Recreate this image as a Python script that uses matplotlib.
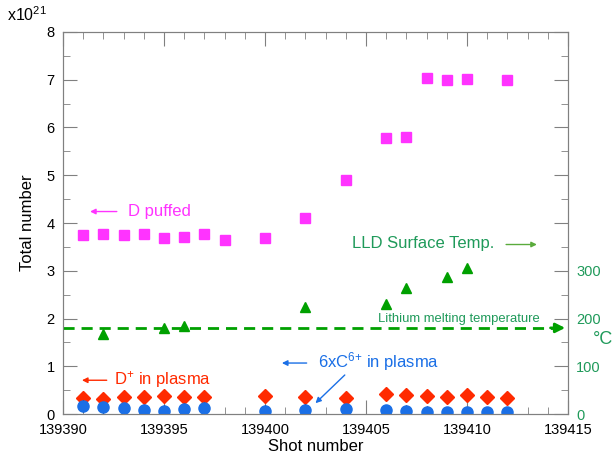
import matplotlib

matplotlib.use("Agg")
import matplotlib.pyplot as plt
from matplotlib.ticker import MultipleLocator, FuncFormatter

plt.rcParams["font.family"] = ["Liberation Sans", "DejaVu Sans"]
plt.rcParams["mathtext.fontset"] = "custom"
plt.rcParams["mathtext.rm"] = "Liberation Sans"
plt.rcParams["mathtext.it"] = "Liberation Sans:italic"

# D puffed (x1e21)
puff_shots = [139391, 139392, 139393, 139394, 139395, 139396, 139397, 139398,
              139400, 139402, 139404, 139406, 139407, 139408, 139409, 139410, 139412]
puff_vals = [3.74, 3.78, 3.75, 3.78, 3.68, 3.70, 3.76, 3.64,
             3.68, 4.10, 4.89, 5.78, 5.80, 7.03, 6.99, 7.02, 6.99]

# D+ and 6xC6+ in plasma (x1e21)
plasma_shots = [139391, 139392, 139393, 139394, 139395, 139396, 139397, 139400,
                139402, 139404, 139406, 139407, 139408, 139409, 139410, 139411, 139412]
dplus_vals = [0.33, 0.31, 0.35, 0.35, 0.37, 0.35, 0.35, 0.38,
              0.35, 0.34, 0.43, 0.41, 0.39, 0.35, 0.40, 0.36, 0.33]
carbon_vals = [0.17, 0.14, 0.12, 0.08, 0.07, 0.11, 0.13, 0.07,
               0.09, 0.10, 0.08, 0.07, 0.05, 0.04, 0.04, 0.04, 0.04]
carbon_err = [0.12, 0.12, 0.12, 0.12, 0.12, 0.12, 0.12, 0.12,
              0.12, 0.12, 0.12, 0.12, 0.12, 0.12, 0.12, 0.12, 0.12]

# LLD surface temperature (deg C)
temp_shots = [139392, 139395, 139396, 139402, 139406, 139407, 139409, 139410]
temp_vals = [168, 181, 185, 225, 231, 263, 288, 305]
li_melt = 180.5

magenta = "#ff33ff"
red = "#ff2a00"
blue = "#1a6fe6"
green = "#00a000"
tgreen = "#1f9a5a"
gray = "#808080"

fig = plt.figure(figsize=(6.12, 4.68), dpi=100)
ax = fig.add_axes([0.103, 0.115, 0.825, 0.817])
ax2 = ax.twinx()

ax.errorbar(plasma_shots, carbon_vals, yerr=carbon_err, fmt="o", color=blue,
            ms=8, ecolor="black", elinewidth=0.8, capsize=0, zorder=3)
ax.plot(plasma_shots, dplus_vals, "D", color=red, ms=7, ls="none", zorder=2)
ax.plot(puff_shots, puff_vals, "s", color=magenta, ms=7.5, ls="none")
ax2.plot(temp_shots, temp_vals, "^", color=green, ms=7, ls="none")

ax2.plot([139390, 139414.6], [li_melt, li_melt], ls=(0, (4, 2.5)), color=green, lw=2)
ax2.annotate("", xy=(139415, li_melt), xytext=(139414.0, li_melt),
             arrowprops=dict(arrowstyle="-|>", color=green, lw=2, mutation_scale=14))

ax.set_xlim(139390, 139415)
ax.set_ylim(0, 8)
ax2.set_ylim(0, 800)

ax.xaxis.set_major_locator(MultipleLocator(5))
ax.xaxis.set_minor_locator(MultipleLocator(1))
ax.yaxis.set_major_locator(MultipleLocator(1))
ax.yaxis.set_minor_locator(MultipleLocator(0.5))
ax.xaxis.set_major_formatter(FuncFormatter(lambda v, p: f"{int(round(v))}"))
ax2.yaxis.set_major_locator(MultipleLocator(100))
ax2.yaxis.set_minor_locator(MultipleLocator(50))
ax2.yaxis.set_major_formatter(FuncFormatter(lambda v, p: f"{int(v)}" if v <= 300 else ""))

ax.tick_params(which="both", direction="in", top=True, right=False, color=gray,
               labelsize=10.5, pad=6)
ax.tick_params(which="major", length=10)
ax.tick_params(which="minor", length=5)
ax2.tick_params(which="both", direction="in", color=gray, labelcolor=tgreen,
                labelsize=10.5, pad=6)
ax2.tick_params(which="major", length=10)
ax2.tick_params(which="minor", length=5)
for a in (ax, ax2):
    for s in a.spines.values():
        s.set_color(gray)

ax.set_xlabel("Shot number", fontsize=12, labelpad=2)
ax.set_ylabel("Total number", fontsize=12, labelpad=8)
fig.text(0.012, 0.955, r"x10$^{21}$", fontsize=11.5)
fig.text(0.968, 0.275, "°C", fontsize=13, color=tgreen, va="center")

fs = 12
ax.text(139393.2, 4.24, "D puffed", color=magenta, fontsize=fs, va="center")
ax.annotate("", xy=(139391.2, 4.24), xytext=(139392.8, 4.24),
            arrowprops=dict(arrowstyle="-|>", color=magenta, lw=1, mutation_scale=8))
ax.text(139392.5, 0.72, r"D$^{+}$ in plasma", color=red, fontsize=fs, va="center")
ax.annotate("", xy=(139390.8, 0.71), xytext=(139392.3, 0.71),
            arrowprops=dict(arrowstyle="-|>", color=red, lw=1, mutation_scale=8))
ax.text(139402.6, 1.1, r"6xC$^{6{+}}$ in plasma", color=blue, fontsize=fs, va="center")
ax.annotate("", xy=(139400.7, 1.07), xytext=(139402.2, 1.07),
            arrowprops=dict(arrowstyle="-|>", color=blue, lw=1, mutation_scale=8))
ax.annotate("", xy=(139402.4, 0.19), xytext=(139404.05, 0.86),
            arrowprops=dict(arrowstyle="-|>", color=blue, lw=1, mutation_scale=8))
ax.text(139404.3, 3.57, "LLD Surface Temp.", color=tgreen, fontsize=fs, va="center")
ax.annotate("", xy=(139413.6, 3.55), xytext=(139411.8, 3.55),
            arrowprops=dict(arrowstyle="-|>", color="#5aab3c", lw=1, mutation_scale=8))
ax.text(139413.6, 2.0, "Lithium melting temperature", color=tgreen, fontsize=9.4,
        ha="right", va="center")

fig.savefig("out.png", dpi=100)
